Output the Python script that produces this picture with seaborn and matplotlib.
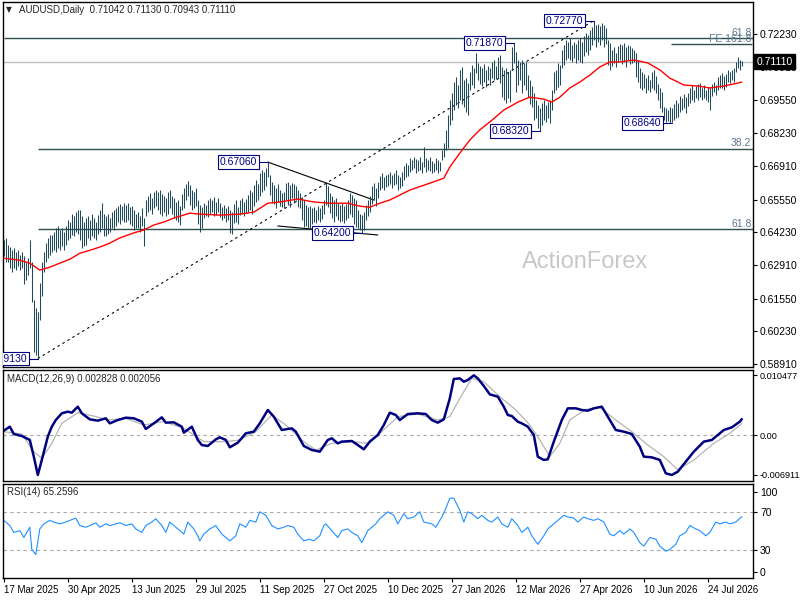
import numpy as np
import matplotlib
matplotlib.use('Agg')
import matplotlib.pyplot as plt
import matplotlib.transforms as mtransforms
import seaborn as sns

sns.set_theme(style='white', rc={'axes.edgecolor': 'black'})
plt.rcParams['font.family'] = ['Liberation Sans', 'DejaVu Sans']

# ---------------- data (prices in pips, 1e-4) ----------------
high_a = [6391, 6399, 6371, 6363, 6351, 6359, 6343, 6351, 6331, 6343, 6327, 6303, 6319, 6391, 6303, 6149, 6117, 6101, 6218, 6303, 6343, 6379, 6399, 6412, 6412]
low_a = [6327, 6303, 6303, 6278, 6262, 6278, 6270, 6286, 6270, 6278, 6214, 6230, 6250, 6278, 6141, 5939, 5927, 5913, 6068, 6165, 6262, 6303, 6319, 6331, 6343]

high_b = [6424, 6440, 6448, 6432, 6440, 6424, 6448, 6472, 6464, 6496, 6488, 6504, 6512, 6512, 6488, 6464, 6480,
          6488, 6472, 6496, 6480, 6464, 6492, 6512, 6541, 6496, 6488, 6496, 6480, 6504, 6512, 6521, 6529, 6537, 6529, 6541,
          6533, 6541, 6525, 6529, 6512, 6496, 6504, 6488, 6521, 6480, 6553, 6569, 6581, 6561, 6585, 6593, 6585, 6593, 6577, 6569,
          6561, 6585, 6593, 6569, 6561, 6545, 6553, 6529, 6577, 6601, 6617, 6630]
low_b = [6351, 6343, 6359, 6351, 6367, 6351, 6371, 6391, 6399, 6412, 6408, 6424, 6416, 6391, 6359, 6367, 6371,
         6399, 6391, 6408, 6399, 6391, 6416, 6424, 6440, 6408, 6408, 6416, 6424, 6440, 6432, 6448, 6464, 6456, 6472, 6464,
         6464, 6472, 6456, 6448, 6432, 6440, 6440, 6424, 6448, 6367, 6488, 6504, 6512, 6496, 6521, 6529, 6512, 6496, 6488, 6504,
         6488, 6496, 6521, 6496, 6480, 6472, 6464, 6452, 6512, 6521, 6553, 6569]

high_c = [6613, 6593, 6585, 6601, 6553, 6533, 6525, 6541, 6533, 6553, 6561, 6553, 6565, 6545, 6561, 6541, 6525, 6533, 6521, 6529,
          6512, 6504, 6537, 6553, 6525, 6553, 6561, 6545, 6557, 6573, 6593, 6585, 6613, 6634, 6617, 6662, 6674, 6666, 6682, 6706,
          6654, 6625, 6613, 6601, 6617, 6593, 6581, 6585, 6621, 6625, 6613, 6621, 6617, 6609, 6593, 6581, 6565, 6553, 6533, 6525,
          6529, 6521, 6525, 6512, 6529, 6521, 6533, 6553, 6621, 6609, 6581, 6569, 6553, 6561, 6541, 6533, 6541, 6529, 6537, 6553,
          6581, 6573, 6561, 6553, 6512, 6496, 6492, 6504, 6533, 6553, 6569]
low_c = [6533, 6512, 6521, 6529, 6456, 6424, 6440, 6480, 6488, 6484, 6496, 6504, 6488, 6492, 6504, 6484, 6472, 6480, 6464, 6472,
         6420, 6416, 6460, 6464, 6456, 6492, 6496, 6488, 6500, 6504, 6512, 6496, 6529, 6545, 6553, 6569, 6585, 6593, 6609, 6646,
         6573, 6541, 6537, 6521, 6545, 6529, 6525, 6521, 6553, 6533, 6525, 6561, 6541, 6553, 6525, 6521, 6472, 6444, 6448, 6440,
         6440, 6456, 6464, 6460, 6472, 6464, 6476, 6496, 6533, 6525, 6500, 6480, 6464, 6488, 6472, 6464, 6468, 6460, 6472, 6480,
         6496, 6484, 6456, 6444, 6440, 6432, 6420, 6432, 6472, 6488, 6504]

high_d = [6609, 6621, 6601, 6625, 6650, 6662, 6646, 6654, 6658, 6666, 6654, 6662, 6674, 6654, 6646, 6666, 6690, 6702, 6694, 6722,
          6714, 6726, 6718, 6714, 6726, 6706, 6767, 6722, 6714, 6726, 6710, 6702, 6722, 6714, 6706, 6755, 6783, 6835, 6896, 6956,
          6985, 7029, 7049, 7017, 7077, 7090, 7037, 7045, 7025, 7069, 7098, 7086, 7146, 7106, 7094, 7086, 7102, 7077, 7094, 7086,
          7110, 7118, 7094, 7130, 7138, 7090, 7077, 7086, 7069, 7077, 7170, 7187, 7150, 7118, 7110, 7118, 7106, 7110, 7057, 7037,
          7013, 6985, 6956, 6936, 6924, 6944, 6956, 6936, 6948, 6956, 6997, 7069, 7077, 7106, 7098]
low_d = [6537, 6553, 6529, 6561, 6593, 6601, 6593, 6605, 6609, 6617, 6601, 6613, 6617, 6593, 6601, 6609, 6634, 6646, 6650, 6666,
         6674, 6682, 6662, 6670, 6674, 6662, 6686, 6666, 6674, 6670, 6662, 6666, 6674, 6662, 6670, 6714, 6726, 6755, 6763, 6856,
         6876, 6916, 6936, 6924, 6956, 6940, 6928, 6908, 6896, 6997, 7017, 7005, 7065, 7037, 7021, 7013, 7029, 7009, 7037, 7017,
         7045, 7037, 7041, 7045, 7025, 6969, 6956, 6944, 6964, 6948, 7077, 7106, 6989, 7017, 7037, 6985, 7017, 6997, 6969, 6940,
         6928, 6876, 6884, 6843, 6832, 6856, 6876, 6868, 6884, 6864, 6916, 6985, 6997, 7009, 7017]

high_e = [7158, 7178, 7199, 7190, 7207, 7178, 7190, 7182, 7199, 7207, 7190, 7215, 7227, 7219, 7239, 7251, 7277, 7259, 7263, 7255,
          7267, 7259, 7247, 7199, 7186, 7158, 7170, 7146, 7174, 7182, 7178, 7186, 7170, 7178, 7174, 7166, 7158, 7146, 7118, 7086,
          7069, 7061, 7045, 7057, 7037, 7069, 7077, 7053, 7021, 7005, 6989, 6928, 6924, 6916, 6928, 6924, 6940, 6956, 6944, 6973,
          6964, 6981, 6969, 6985, 7005, 7017, 6997, 7013, 7021, 7025, 7005, 7017, 6997, 7009, 7005, 7021, 7029, 7017, 7049, 7058,
          7066, 7053, 7061, 7077, 7069, 7077, 7086, 7110, 7130, 7118, 7113]
low_e = [7086, 7098, 7118, 7126, 7118, 7110, 7126, 7106, 7118, 7110, 7106, 7134, 7150, 7138, 7158, 7178, 7199, 7170, 7190, 7178,
         7199, 7170, 7182, 7098, 7077, 7094, 7106, 7090, 7110, 7118, 7102, 7110, 7090, 7118, 7102, 7106, 7110, 7049, 7029, 7005,
         6997, 7005, 6985, 6997, 6989, 7005, 6997, 6985, 6956, 6924, 6908, 6876, 6868, 6872, 6864, 6866, 6876, 6884, 6888, 6908,
         6916, 6924, 6904, 6932, 6944, 6956, 6948, 6964, 6956, 6969, 6956, 6964, 6956, 6948, 6916, 6972, 6989, 6977, 6997, 7005,
         7005, 6997, 7009, 7029, 7025, 7037, 7029, 7069, 7086, 7077, 7094]

ma_idx = [0, 8, 13, 18, 23, 28, 33, 38, 43, 48, 53, 58, 65, 70, 75, 80, 85, 93, 98, 108,
          118, 125, 132, 138, 147, 155, 163, 172, 178, 183, 188, 193, 203, 213, 220, 223, 228, 233, 238, 243,
          250, 257, 263, 270, 274, 278, 283, 288, 293, 298, 303, 308, 315, 322, 328, 333, 340, 347, 353, 360, 367, 369]
ma_val = [6318, 6310, 6298, 6270, 6282, 6298, 6314, 6338, 6350, 6363, 6379, 6400, 6420, 6432, 6452, 6464, 6480, 6500, 6496, 6492,
          6496, 6504, 6540, 6545, 6557, 6545, 6540, 6540, 6528, 6524, 6540, 6553, 6593, 6621, 6641, 6686, 6742, 6795, 6836, 6868,
          6916, 6948, 6968, 6960, 6948, 6968, 7005, 7029, 7057, 7090, 7110, 7110, 7118, 7106, 7078, 7045, 7017, 7013, 7005, 7013, 7025, 7029]

# MACD (x1e-4)
macd_idx = [0, 3, 5, 9, 13, 15, 17, 19, 22, 24, 26, 29, 32, 34, 37, 39, 43, 47, 51, 53,
            57, 61, 65, 69, 71, 75, 79, 81, 85, 89, 90, 94, 97, 99, 102, 106, 108, 111, 113, 117,
            121, 125, 128, 132, 135, 139, 144, 146, 150, 154, 158, 162, 164, 167, 169, 174, 177, 180, 183, 187,
            190, 193, 196, 198, 202, 207, 211, 214, 217, 220, 223, 225, 228, 230, 232, 235, 237, 240, 243, 247,
            250, 252, 254, 257, 259, 262, 265, 267, 270, 272, 275, 279, 282, 286, 289, 292, 295, 299, 301, 304,
            306, 310, 314, 318, 320, 324, 328, 331, 334, 337, 341, 345, 350, 354, 356, 360, 364, 368, 369]
macd_val = [8.2, 15.2, 2.4, -1.1, -8.0, -37.1, -69.1, -42.9, -2.2, 15.2, 26.8, 38.5, 41.4, 39.6, 50.1, 38.5, 28.0, 25.7, 29.8, 21.0,
            26.8, 30.9, 29.8, 24.0, 11.2, 21.0, 31.5, 22.2, 22.8, 15.2, 4.8, 15.2, -8.0, -16.8, -18.5, -6.9, -3.4, -8.0, -20.8, -12.7,
            3.6, 6.5, 21.0, 44.3, 32.7, 9.4, 12.3, 6.5, -18.5, -25.5, -28.4, -8.0, -5.1, -13.9, -10.9, -9.8, -16.8, -24.3, -10.9, 0.7,
            18.1, 39.6, 35.6, 26.8, 37.3, 38.5, 37.3, 26.8, 22.2, 28.0, 64.6, 98.4, 99.5, 93.7, 96.6, 104.8, 99.5, 86.2, 71.6, 67.6,
            50.1, 35.6, 33.8, 23.9, 21.0, 15.2, 0.7, -37.1, -42.9, -41.8, -10.9, 26.8, 47.2, 47.2, 44.3, 43.1, 47.2, 50.1, 38.5, 21.0,
            9.4, 6.5, 2.4, -19.7, -37.1, -38.3, -42.9, -66.2, -69.1, -63.3, -45.8, -28.4, -10.9, -8.0, -2.2, 9.4, 14.0, 23.9, 28.3]
sig_idx = [0, 9, 15, 19, 24, 29, 37, 45, 52, 61, 70, 80, 90, 100, 111, 118, 126, 134, 141, 151,
           156, 164, 174, 182, 189, 197, 207, 217, 223, 228, 234, 240, 248, 256, 263, 268, 273, 278, 283, 291,
           298, 306, 314, 322, 330, 337, 345, 355, 363, 369]
sig_val = [6.5, 2.4, -28.4, -40.0, -13.9, 21.0, 39.6, 33.8, 26.8, 29.8, 18.1, 24.0, 12.3, -10.9, -10.9, -8.0, 6.5, 35.6, 18.1, -13.9,
           -25.5, -13.9, -10.9, -13.9, 6.5, 32.7, 37.3, 26.8, 32.7, 64.6, 99.5, 93.7, 67.6, 44.3, 18.1, -8.0, -37.1, -13.9, 26.8, 45.5,
           49.0, 26.8, 6.5, -16.8, -37.1, -60.0, -42.9, -13.9, 3.6, 20.6]

rsi_idx = [0, 3, 5, 8, 10, 13, 14, 16, 18, 20, 23, 25, 28, 31, 33, 36, 38, 41, 43, 46,
           48, 51, 53, 56, 58, 61, 64, 66, 69, 71, 74, 76, 79, 81, 83, 85, 88, 90, 92, 95,
           97, 98, 100, 103, 106, 109, 111, 113, 116, 118, 121, 123, 126, 128, 131, 134, 137, 140, 142, 145,
           147, 150, 153, 155, 158, 160, 161, 164, 167, 169, 172, 174, 177, 179, 182, 186, 188, 192, 195, 197,
           200, 202, 205, 208, 210, 214, 216, 219, 221, 223, 225, 228, 230, 232, 234, 237, 239, 242, 244, 247,
           249, 252, 254, 257, 259, 262, 264, 267, 270, 272, 275, 277, 280, 282, 285, 287, 290, 292, 295, 297,
           300, 303, 305, 308, 310, 313, 315, 318, 320, 323, 326, 328, 331, 333, 336, 338, 341, 343, 346, 348,
           351, 353, 356, 358, 361, 363, 366, 369]
rsi_val = [61.3, 55.8, 48.5, 50.4, 43.1, 54.0, 30.4, 24.9, 52.2, 57.6, 61.3, 59.5, 57.6, 59.5, 61.3, 63.8, 55.8, 54.0, 55.8, 58.7,
           54.0, 57.6, 55.8, 57.6, 58.7, 55.8, 57.6, 52.2, 48.5, 55.8, 59.5, 63.1, 55.8, 48.5, 59.5, 55.8, 50.4, 46.7, 59.5, 52.2,
           44.9, 39.5, 46.7, 52.2, 55.8, 46.7, 43.1, 39.5, 44.9, 57.6, 54.0, 61.3, 59.5, 70.4, 66.7, 55.8, 52.2, 54.0, 55.8, 54.0,
           46.7, 39.5, 41.3, 39.5, 44.9, 55.8, 57.6, 50.4, 43.1, 50.4, 52.2, 48.5, 44.9, 37.6, 50.4, 57.6, 63.1, 70.4, 66.7, 57.6,
           68.5, 63.1, 64.9, 70.4, 59.5, 57.6, 54.0, 64.9, 74.0, 84.9, 84.9, 72.2, 59.5, 70.4, 68.5, 63.1, 66.7, 61.3, 59.5, 64.9,
           57.6, 54.0, 63.1, 55.8, 48.5, 54.0, 44.9, 35.8, 44.9, 52.2, 57.6, 61.3, 66.7, 64.9, 63.8, 59.5, 64.9, 63.1, 61.3, 63.1,
           59.5, 46.7, 44.9, 50.4, 46.7, 52.2, 48.5, 37.6, 34.0, 43.1, 41.3, 34.0, 28.5, 30.4, 35.8, 44.9, 48.5, 55.8, 52.2, 50.4,
           44.9, 48.5, 59.5, 57.6, 59.5, 57.6, 59.5, 65.3]

price_ticks = [0.72230, 0.70910, 0.69550, 0.68230, 0.66910, 0.65550, 0.64230, 0.62910, 0.61550, 0.60230, 0.58910]
date_idx = [0, 32, 64, 96, 128, 160, 192, 224, 256, 288, 320, 352]
date_labels = ['17 Mar 2025', '30 Apr 2025', '13 Jun 2025', '29 Jul 2025', '11 Sep 2025', '27 Oct 2025',
               '10 Dec 2025', '27 Jan 2026', '12 Mar 2026', '27 Apr 2026', '10 Jun 2026', '24 Jul 2026']

ann_idx = [17, 132, 179, 255, 268, 295, 334]
ann_val = [0.59130, 0.67060, 0.64200, 0.71870, 0.68320, 0.72770, 0.68640]

fib_val = [0.72068, 0.67589, 0.64348]
fib_lab = ['61.8', '38.2', '61.8']
fib_start = [0, 17, 17]
fe_val = 0.71826
fe_start = 333.5
last_price = 0.71110
ohlc_text = 'AUDUSD,Daily  0.71042 0.71130 0.70943 0.71110'

# trend lines (bar index, price)
trend_dash = ([17, 295], [0.59130, 0.72770])
trend_top = ([132, 185], [0.67060, 0.65530])
trend_low = ([137, 187], [0.64481, 0.64118])

# ---------------- build ----------------
high = np.array(high_a + high_b + high_c + high_d + high_e) / 10000.0
low = np.array(low_a + low_b + low_c + low_d + low_e) / 10000.0
n = min(len(high), len(low))
high, low = high[:n], low[:n]
idx = np.arange(n)

def pairs(a, b, scale=1.0):
    m = min(len(a), len(b))
    return np.array(a[:m]), np.array(b[:m]) * scale

ma_x, ma_y = pairs(ma_idx, ma_val, 1e-4)
mc_x, mc_y = pairs(macd_idx, macd_val, 1e-4)
sg_x, sg_y = pairs(sig_idx, sig_val, 1e-4)
rs_x, rs_y = pairs(rsi_idx, rsi_val)

W, H = 800, 600
fig = plt.figure(figsize=(8, 6), dpi=100)
fig.patch.set_facecolor('white')

def rect(x0, y0, x1, y1):
    return [x0 / W, 1 - y1 / H, (x1 - x0) / W, (y1 - y0) / H]

ax = fig.add_axes(rect(3, 2, 753, 367))
axm = fig.add_axes(rect(3, 370, 753, 481))
axr = fig.add_axes(rect(3, 484, 753, 578))

XMIN, XMAX = -0.4, 374.6
for a in (ax, axm, axr):
    a.set_facecolor('white')
    a.set_xlim(XMIN, XMAX)
    for s in a.spines.values():
        s.set_color('black')
        s.set_linewidth(1.0)
    a.yaxis.tick_right()
    a.tick_params(axis='y', which='both', direction='out', length=3, width=0.8,
                  labelsize=7.5, pad=2, colors='black', left=False, right=True)
    a.grid(False)

# ---- main panel
ax.set_ylim(0.58790, 0.73521)
ax.axhline(last_price, color='#c0c0c0', lw=1.0, zorder=1)
ax.text(0.776, 0.288, 'ActionForex', transform=ax.transAxes, ha='center', va='center',
        fontsize=17, color='#c8c8c8', zorder=0)

for v, s in zip(fib_val, fib_start):
    ax.hlines(v, s, XMAX, color='#2f4f4f', lw=1.0, zorder=2)
ax.hlines(fe_val, fe_start, XMAX - 0.5, color='#2f4f4f', lw=1.0, zorder=2)
fibc = '#5a7690'
ax.text(XMAX - 0.8, fib_val[0] + 0.0002, fib_lab[0], ha='right', va='bottom', fontsize=7.5, color=fibc)
ax.text(XMAX - 0.8, fe_val + 0.0002, 'FE 161.8', ha='right', va='bottom', fontsize=7.5, color=fibc)
ax.text(XMAX - 0.8, fib_val[1] + 0.0002, fib_lab[1], ha='right', va='bottom', fontsize=7.5, color=fibc)
ax.text(XMAX - 0.8, fib_val[2] + 0.0002, fib_lab[2], ha='right', va='bottom', fontsize=7.5, color=fibc)

ax.plot(trend_dash[0], trend_dash[1], color='black', lw=0.8, ls=(0, (2.2, 3.0)), zorder=3)
ax.plot(trend_top[0], trend_top[1], color='black', lw=0.8, zorder=3)
ax.plot(trend_low[0], trend_low[1], color='black', lw=0.8, zorder=3)

ax.vlines(idx, low, high, color='#1f4a5c', lw=0.75, zorder=4)
sns.lineplot(x=ma_x, y=ma_y, ax=ax, color='#ff0000', linewidth=1.0, legend=False,
             estimator=None, sort=False, zorder=5)

for i, v in zip(ann_idx, ann_val):
    ax.plot([i - 5, i], [v, v], color='#000080', lw=0.8, zorder=6)
    ax.text(i - 5.3, v, '%.5f' % v, ha='right', va='center', fontsize=7.5, color='#000080', zorder=7,
            bbox=dict(boxstyle='square,pad=0.18', fc='white', ec='#000080', lw=0.8), clip_on=True)

ax.set_yticks(price_ticks)
ax.set_yticklabels(['%.5f' % t for t in price_ticks])
ax.set_ylim(0.58790, 0.73521)
ax.tick_params(axis='x', bottom=False, labelbottom=False)
ax.set_xlabel('')
ax.set_ylabel('')

trans = mtransforms.blended_transform_factory(ax.transAxes, ax.transData)
ax.text(1.0 + 3.5 / 750, last_price, '%.5f' % last_price, transform=trans, ha='left', va='center',
        fontsize=7.5, color='white', zorder=10, clip_on=False,
        bbox=dict(boxstyle='square,pad=0.25', fc='black', ec='black'))

# ---- MACD panel
axm.set_ylim(-0.00796, 0.01141)
axm.axhline(0, color='#a8a8a8', lw=0.8, ls=(0, (3, 3)), zorder=1)
sns.lineplot(x=sg_x, y=sg_y, ax=axm, color='#b4b4b4', linewidth=0.9, legend=False, estimator=None, sort=False)
sns.lineplot(x=mc_x, y=mc_y, ax=axm, color='#000080', linewidth=1.8, legend=False, estimator=None, sort=False)
axm.set_yticks([0.010477, 0.0, -0.006911])
axm.set_yticklabels(['0.010477', '0.00', '-0.006911'])
axm.set_ylim(-0.00796, 0.01141)
axm.tick_params(axis='y', labelsize=6.6, pad=1.5)
axm.tick_params(axis='x', bottom=False, labelbottom=False)
axm.set_xlabel('')
axm.set_ylabel('')

# ---- RSI panel
axr.set_ylim(0, 100)
for lv in (70, 30):
    axr.axhline(lv, color='#a8a8a8', lw=0.8, ls=(0, (3, 3)), zorder=1)
sns.lineplot(x=rs_x, y=rs_y, ax=axr, color='#1e90ff', linewidth=0.8, legend=False, estimator=None, sort=False)
axr.set_yticks([92, 70, 30, 6])
axr.set_yticklabels(['100', '70', '30', '0'])
axr.set_ylim(0, 100)
axr.set_xticks(date_idx)
axr.set_xticklabels(date_labels, ha='left')
axr.tick_params(axis='x', direction='out', length=3, width=0.8, labelsize=7, pad=2,
                colors='black', bottom=True)
axr.set_xlim(XMIN, XMAX)
axr.set_xlabel('')
axr.set_ylabel('')

# ---- headers
fig.text(6 / W, 1 - 10 / H, '▼', fontsize=5.5, family='DejaVu Sans', va='center', ha='left')
fig.text(19 / W, 1 - 10 / H, ohlc_text, fontsize=7, va='center', ha='left')
fig.text(7 / W, 1 - 379 / H, 'MACD(12,26,9) 0.002828 0.002056', fontsize=7, va='center', ha='left')
fig.text(7 / W, 1 - 492 / H, 'RSI(14) 65.2596', fontsize=7, va='center', ha='left')

fig.savefig('out.png', dpi=100, facecolor='white')
